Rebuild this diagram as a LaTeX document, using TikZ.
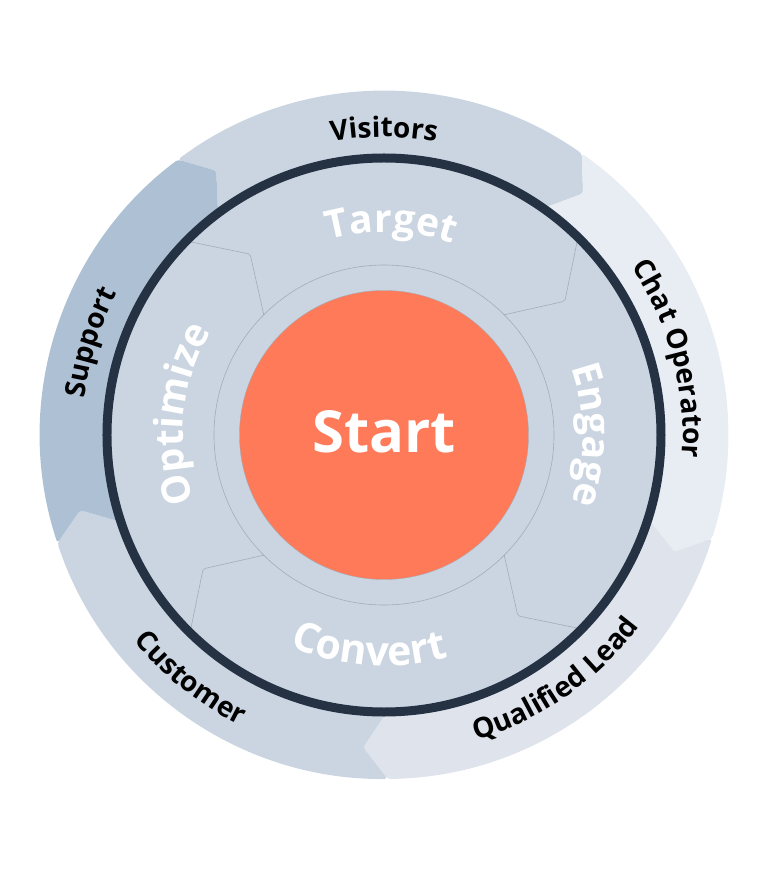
\documentclass[tikz,border=0pt]{standalone}
\usepackage{fontspec}
\setmainfont{Open Sans}
\usetikzlibrary{decorations.text}

\definecolor{ringdark}{HTML}{253244}
\definecolor{startorange}{HTML}{FF7A59}
\definecolor{wheelfill}{HTML}{CBD5E1}
\definecolor{visitorsfill}{HTML}{CBD5E1}
\definecolor{chatfill}{HTML}{E8EDF4}
\definecolor{leadfill}{HTML}{DFE4EC}
\definecolor{customerfill}{HTML}{CBD5E1}
\definecolor{supportfill}{HTML}{AEC1D4}
\definecolor{seamgray}{HTML}{A3ACB7}

\newcommand{\outerfont}{\fontsize{28}{30}\selectfont\bfseries}
\newcommand{\innerfont}{\fontsize{39}{41}\selectfont\bfseries\color{white}}

\begin{document}
\begin{tikzpicture}[x=1pt,y=1pt,
  seam/.style={draw=seamgray, line width=0.6pt, rounded corners=2pt},
  curved/.style={decorate, decoration={text along path, text align=center, text={#1}}}]
\useasboundingbox (-384,-435) rectangle (384,435);

\def\Ro{344}
\def\Rm{313}
\def\Ri{277}
\def\dl{4.4}

\def\ringpart#1#2#3{%
  \fill[#1, rounded corners=3pt] (#2:\Ro) arc[start angle=#2, end angle=#3, radius=\Ro]
    -- ({#3-\dl}:\Rm) -- (#3:\Ri) arc[start angle=#3, end angle=#2, radius=\Ri]
    -- ({#2-\dl}:\Rm) -- cycle;}

\ringpart{visitorsfill}{126.8}{54.9}
\ringpart{chatfill}{54.9}{-17.5}
\ringpart{leadfill}{-17.5}{-89.4}
\ringpart{customerfill}{-89.4}{-161.7}
\ringpart{supportfill}{198.3}{126.8}

\fill[wheelfill] (0,0) circle (\Ri);

\draw[seam] (135:170) -- (126.5:225) -- (135:273);
\draw[seam] (45:170) -- (36.5:225) -- (45:273);
\draw[seam] (-45:170) -- (-53.5:225) -- (-45:273);
\draw[seam] (-135:170) -- (-143.5:225) -- (-135:273);
\draw[seamgray, line width=0.6pt] (0,0) circle (170);

\node[circle, fill=startorange, draw=seamgray, line width=0.4pt,
  minimum size=289pt, inner sep=0pt] (hub) at (0,0) {};
\node[text=white, font=\fontsize{58}{60}\selectfont\bfseries] (start) at (0,3) {Start};

\draw[ringdark, line width=9pt] (0,0) circle (\Ri);

\path[curved={|\outerfont|Visitors}] (130:298) arc[start angle=130, end angle=50, radius=298];
\path[curved={|\outerfont|Chat Operator}] (60:299) arc[start angle=60, end angle=-30, radius=299];
\path[curved={|\outerfont|Qualified Lead}] (-95:319) arc[start angle=-95, end angle=-15, radius=319];
\path[curved={|\outerfont|Customer}] (-168.5:324) arc[start angle=-168.5, end angle=-88.5, radius=324];
\path[curved={|\outerfont|Support}] (200:302) arc[start angle=200, end angle=125, radius=302];

\path[curved={|\innerfont|Target}] (128:203) arc[start angle=128, end angle=48, radius=203];
\path[curved={|\innerfont|Engage}] (40:199) arc[start angle=40, end angle=-40, radius=199];
\path[curved={|\innerfont\fontsize{41}{43}\selectfont|Convert}] (-134:231) arc[start angle=-134, end angle=-54, radius=231];
\path[curved={|\innerfont|Optimize}] (214:201) arc[start angle=214, end angle=134, radius=201];

\end{tikzpicture}
\end{document}
